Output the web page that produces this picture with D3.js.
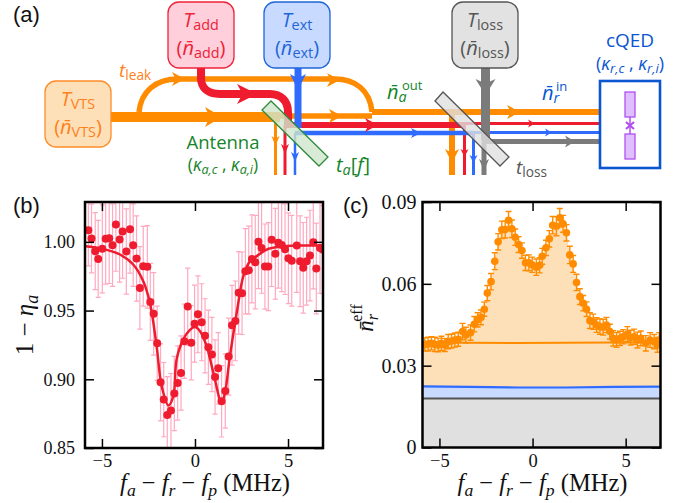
<!DOCTYPE html>
<html>
<head>
<meta charset="utf-8">
<script src="https://cdn.jsdelivr.net/npm/d3@7"></script>
<style>
  html, body { margin: 0; padding: 0; background: #fff; }
  svg { display: block; }
  .serif { font-family: "Liberation Serif", serif; }
  .diagram text { font-family: "Open Sans", sans-serif; }
</style>
</head>
<body>
<div id="chart"></div>
<script>
// panel (b): antenna transmission
const bX = [-5.73,-5.56,-5.36,-5.20,-4.98,-4.80,-4.61,-4.43,-4.25,-4.05,-3.89,-3.69,-3.49,-3.32,-3.14,-2.96,-2.78,-2.56,-2.40,-2.22,-2.03,-1.85,-1.68,-1.49,-1.29,-1.11,-0.93,-0.75,-0.57,-0.39,-0.20,-0.02,0.16,0.36,0.54,0.72,0.91,1.08,1.25,1.43,1.63,1.81,1.99,2.17,2.35,2.53,2.71,2.89,3.06,3.24,3.41,3.58,3.76,3.94,4.12,4.32,4.48,4.66,4.84,5.02,5.20,5.47,5.65,5.82,6.00,6.18,6.36,6.52,6.72,6.86];
const bY = [1.0085,1.0024,0.9932,0.9876,0.9949,1.0022,1.0027,0.9976,1.0126,1.0017,1.0075,0.9930,1.0092,0.9976,0.9879,0.9665,0.9823,0.9818,0.9563,0.9476,0.9262,0.8978,0.8852,0.8740,0.8772,0.8896,0.8973,0.9046,0.9277,0.9529,0.9265,0.9405,0.9473,0.9415,0.9316,0.9233,0.9180,0.9017,0.9080,0.8840,0.8915,0.9165,0.9393,0.9425,0.9629,0.9626,0.9786,0.9794,0.9876,0.9852,1.0000,0.9956,0.9820,0.9820,1.0015,0.9913,0.9993,0.9978,0.9947,0.9881,0.9862,0.9973,0.9859,0.9811,0.9859,0.9900,0.9998,0.9806,0.9956,0.9944];
const bErr = [0.026,0.025,0.028,0.028,0.032,0.033,0.033,0.030,0.034,0.031,0.034,0.031,0.032,0.030,0.031,0.030,0.029,0.030,0.028,0.030,0.027,0.028,0.027,0.028,0.027,0.027,0.027,0.027,0.027,0.028,0.027,0.028,0.028,0.028,0.027,0.027,0.027,0.027,0.026,0.026,0.027,0.028,0.029,0.029,0.030,0.030,0.031,0.032,0.032,0.034,0.034,0.033,0.031,0.032,0.034,0.033,0.033,0.034,0.033,0.033,0.033,0.034,0.033,0.033,0.032,0.033,0.034,0.033,0.033,0.032];
const bFitX = [-5.90,-5.11,-4.75,-4.03,-3.32,-2.78,-2.42,-2.06,-1.79,-1.43,-1.16,-0.99,-0.63,-0.27,0,0.27,0.63,0.99,1.43,1.61,1.88,2.24,2.60,2.96,3.32,3.85,4.57,5.47,6.90];
const bFitY = [0.9968,0.9955,0.9942,0.9908,0.9835,0.9714,0.9556,0.9240,0.8950,0.8810,0.8880,0.9143,0.9290,0.9360,0.9380,0.9350,0.9240,0.9046,0.8830,0.8900,0.9170,0.9480,0.9750,0.9860,0.9896,0.9944,0.9964,0.9973,0.9973];

// panel (c): effective photon number
const cX = [-5.79,-5.61,-5.43,-5.25,-5.07,-4.89,-4.71,-4.53,-4.35,-4.17,-3.99,-3.76,-3.58,-3.33,-3.13,-2.95,-2.77,-2.59,-2.43,-2.23,-2.03,-1.85,-1.65,-1.47,-1.29,-1.11,-0.93,-0.75,-0.57,-0.38,-0.20,-0.02,0.20,0.38,0.52,0.72,0.90,1.08,1.28,1.46,1.64,1.82,2.00,2.18,2.36,2.54,2.72,2.90,3.08,3.26,3.44,3.62,3.79,3.97,4.15,4.33,4.51,4.69,4.87,5.09,5.27,5.45,5.63,5.81,6.08,6.31,6.53,6.71,6.80];
const cY = [0.0378,0.0379,0.0382,0.0378,0.0376,0.0382,0.0376,0.0388,0.0390,0.0394,0.0397,0.0425,0.0412,0.0421,0.0452,0.0468,0.0477,0.0507,0.0566,0.0608,0.0683,0.0754,0.0798,0.0799,0.0833,0.0802,0.0771,0.0744,0.0722,0.0677,0.0677,0.0670,0.0661,0.0668,0.0701,0.0732,0.0765,0.0815,0.0811,0.0842,0.0820,0.0787,0.0706,0.0673,0.0605,0.0553,0.0529,0.0507,0.0465,0.0461,0.0449,0.0443,0.0441,0.0449,0.0425,0.0400,0.0394,0.0400,0.0406,0.0416,0.0403,0.0406,0.0394,0.0400,0.0382,0.0394,0.0388,0.0376,0.0394];
const cErr = [0.0024,0.0025,0.0024,0.0026,0.0025,0.0026,0.0024,0.0026,0.0025,0.0026,0.0026,0.0030,0.0029,0.0028,0.0028,0.0026,0.0027,0.0026,0.0028,0.0030,0.0031,0.0030,0.0032,0.0031,0.0032,0.0032,0.0030,0.0029,0.0028,0.0028,0.0029,0.0028,0.0030,0.0028,0.0029,0.0028,0.0030,0.0032,0.0035,0.0034,0.0031,0.0030,0.0032,0.0031,0.0030,0.0029,0.0028,0.0027,0.0029,0.0028,0.0027,0.0028,0.0029,0.0028,0.0027,0.0028,0.0027,0.0026,0.0026,0.0027,0.0027,0.0028,0.0029,0.0027,0.0028,0.0027,0.0026,0.0027,0.0027];
const cRange = [-5.95, 6.9];
const orangeLevel = [0.0385, 0.0384, 0.0383, 0.0384, 0.0385, 0.0385];
const blueLevel = [0.0224, 0.0222, 0.0220, 0.0220, 0.0222, 0.0223];
const greyLevel = 0.018;

const xTicks = [-5, 0, 5];
const bTicks = [0.85, 0.90, 0.95, 1.00];
const cTicks = [0, 0.03, 0.06, 0.09];

const RED = '#ee1c2e', ORANGE = '#ff8c00', BLUE = '#2f6bff', GREY = '#7b7b7b';

const svg = d3.select('#chart').append('svg').attr('width', 683).attr('height', 503);

// writes a run of [string, kind] pieces into a text element
function rich(text, parts, size, drop) {
  let shift = 0;
  const low = drop === undefined ? 0.15 : drop;
  parts.forEach(([str, kind]) => {
    const t = text.append('tspan').text(str);
    let want = 0;
    if (kind === 'i') t.attr('font-style', 'italic');
    if (kind === 'sub' || kind === 'subi') { want = size * low; t.attr('font-size', size * 0.72); }
    if (kind === 'subi') t.attr('font-style', 'italic');
    t.attr('dy', want - shift);
    shift = want;
  });
}

function arrow(g, tipX, tipY, dir, len, hw, color) {
  const r = { right: 0, down: 90 }[dir];
  g.append('path')
    .attr('d', `M0,0L${-len},${-hw}L${-len * 0.72},0L${-len},${hw}Z`)
    .attr('transform', `translate(${tipX},${tipY}) rotate(${r})`)
    .attr('fill', color);
}

function panel(opt) {
  const g = svg.append('g');
  const x = d3.scaleLinear().domain(opt.xDomain).range(opt.xRange);
  const y = d3.scaleLinear().domain(opt.yDomain).range(opt.yRange);
  const id = 'clip' + opt.name;
  g.append('clipPath').attr('id', id).append('rect')
    .attr('x', opt.xRange[0]).attr('y', opt.yRange[1])
    .attr('width', opt.xRange[1] - opt.xRange[0]).attr('height', opt.yRange[0] - opt.yRange[1]);
  const body = g.append('g').attr('clip-path', `url(#${id})`);
  opt.draw(body, x, y);

  const h = opt.yRange[0], t = opt.yRange[1], l = opt.xRange[0], r = opt.xRange[1];
  const axes = [
    [d3.axisBottom(x).tickValues(xTicks).tickSize(-9).tickSizeOuter(0).tickPadding(6), `translate(0,${h})`, 18.5],
    [d3.axisTop(x).tickValues(xTicks).tickSize(-9).tickSizeOuter(0).tickFormat(''), `translate(0,${t})`, 18],
    [d3.axisLeft(y).tickValues(opt.yTicks).tickSize(-9).tickSizeOuter(0).tickPadding(opt.yPad).tickFormat(opt.yFormat), `translate(${l},0)`, opt.ySize],
    [d3.axisRight(y).tickValues(opt.yTicks).tickSize(-9).tickSizeOuter(0).tickFormat(''), `translate(${r},0)`, 18]
  ];
  axes.forEach(([axis, tr, size]) => {
    const a = g.append('g').attr('transform', tr).call(axis);
    a.select('.domain').remove();
    a.selectAll('.tick line').attr('stroke', '#000').attr('stroke-width', 1.5);
    a.selectAll('.tick text').style('font-family', '"Liberation Serif", serif').attr('font-size', size).attr('fill', '#111');
  });
  g.append('rect').attr('x', l).attr('y', t).attr('width', r - l).attr('height', h - t)
    .attr('fill', 'none').attr('stroke', '#000').attr('stroke-width', 2.5);

  const xl = g.append('text').attr('class', 'serif').attr('x', (l + r) / 2 + 1).attr('y', 491)
    .attr('text-anchor', 'middle').attr('font-size', 24.5).attr('fill', '#111');
  rich(xl, [['f', 'i'], ['a', 'subi'], [' − ', ''], ['f', 'i'], ['r', 'subi'], [' − ', ''], ['f', 'i'], ['p', 'subi'], [' (MHz)', '']], 24.5, 0.2);
  g.append('text').attr('x', opt.tagX).attr('y', 213).attr('font-family', '"Liberation Sans", sans-serif')
    .attr('font-size', 22).attr('fill', '#111').text(opt.tag);
  return g;
}

function errorBars(g, x, y, xs, ys, errs, color, cap, width) {
  xs.forEach((v, i) => {
    const px = x(v), y0 = y(ys[i] - errs[i]), y1 = y(ys[i] + errs[i]);
    g.append('path')
      .attr('d', `M${px},${y0}V${y1}M${px - cap},${y0}H${px + cap}M${px - cap},${y1}H${px + cap}`)
      .attr('fill', 'none').attr('stroke', color).attr('stroke-width', width);
  });
}

// (b)
const bPanel = panel({
  name: 'b', tag: '(b)', tagX: 13,
  xDomain: [-5.91, 6.88], xRange: [85, 323],
  yDomain: [0.85, 1.029], yRange: [448, 202],
  yTicks: bTicks, yFormat: d3.format('.2f'), yPad: 10, ySize: 18,
  draw(g, x, y) {
    errorBars(g, x, y, bX, bY, bErr, '#ffa9c0', 2.6, 1.2);
    g.append('path').datum(d3.zip(bFitX, bFitY))
      .attr('d', d3.line().x(d => x(d[0])).y(d => y(d[1])).curve(d3.curveCatmullRom.alpha(0.5)))
      .attr('fill', 'none').attr('stroke', RED).attr('stroke-width', 2.5);
    g.selectAll('circle').data(d3.zip(bX, bY)).join('circle')
      .attr('cx', d => x(d[0])).attr('cy', d => y(d[1])).attr('r', 4).attr('fill', RED);
  }
});
const bLabel = bPanel.append('text').attr('class', 'serif').attr('font-size', 25).attr('fill', '#111')
  .attr('transform', 'translate(33,325) rotate(-90)').attr('text-anchor', 'middle');
rich(bLabel, [['1 − ', ''], ['η', 'i'], ['a', 'subi']], 25, 0.2);

// (c)
const cPanel = panel({
  name: 'c', tag: '(c)', tagX: 343,
  xDomain: [-5.91, 6.87], xRange: [422.5, 660.5],
  yDomain: [0, 0.09], yRange: [447.5, 202],
  yTicks: cTicks, yFormat: d => (d === 0 ? '0' : d3.format('.2f')(d)), yPad: 6, ySize: 20,
  draw(g, x, y) {
    const levelX = d3.range(orangeLevel.length).map(i => cRange[0] + i * (cRange[1] - cRange[0]) / (orangeLevel.length - 1));
    const shade = [[cRange[0], cY[0]], ...d3.zip(cX, cY), [cRange[1], cY[cY.length - 1]]];
    g.append('path').datum(shade)
      .attr('d', d3.area().x(d => x(d[0])).y0(y(0)).y1(d => y(d[1])))
      .attr('fill', '#fde0b8');
    g.append('path').datum(d3.zip(levelX, blueLevel))
      .attr('d', d3.area().x(d => x(d[0])).y0(y(0)).y1(d => y(d[1])))
      .attr('fill', '#c8daff');
    g.append('rect').attr('x', x(cRange[0])).attr('width', x(cRange[1]) - x(cRange[0]))
      .attr('y', y(greyLevel)).attr('height', y(0) - y(greyLevel)).attr('fill', '#e0e0e0');
    const line = d3.line().x(d => x(d[0])).y(d => y(d[1]));
    g.append('path').datum(d3.zip(levelX, orangeLevel)).attr('d', line)
      .attr('fill', 'none').attr('stroke', ORANGE).attr('stroke-width', 2);
    g.append('path').datum(d3.zip(levelX, blueLevel)).attr('d', line)
      .attr('fill', 'none').attr('stroke', BLUE).attr('stroke-width', 2.2);
    g.append('path').datum([[cRange[0], greyLevel], [cRange[1], greyLevel]]).attr('d', line)
      .attr('fill', 'none').attr('stroke', '#555').attr('stroke-width', 2);
    errorBars(g, x, y, cX, cY, cErr, ORANGE, 3, 1.4);
    g.selectAll('circle').data(d3.zip(cX, cY)).join('circle')
      .attr('cx', d => x(d[0])).attr('cy', d => y(d[1])).attr('r', 3.8).attr('fill', ORANGE);
  }
});
const cLabel = cPanel.append('text').attr('class', 'serif').attr('font-size', 23).attr('fill', '#111')
  .attr('transform', 'translate(373,318) rotate(-90)').attr('text-anchor', 'middle');
rich(cLabel, [['n̄', 'i'], ['r', 'subi']], 23, 0.2);
cLabel.append('tspan').attr('dx', -8).attr('dy', -16).attr('font-size', 16).text('eff');

// (a) schematic
const dia = svg.append('g').attr('class', 'diagram');
dia.append('text').attr('x', 13).attr('y', 22)
  .style('font-family', '"Liberation Sans", sans-serif').attr('font-size', 22).attr('fill', '#111').text('(a)');

function wire(d, color, w) {
  dia.append('path').attr('d', d).attr('fill', 'none').attr('stroke', color).attr('stroke-width', w);
}
// beams
wire('M111,117H280', ORANGE, 10);
wire('M275,116H372', ORANGE, 5.5);
wire('M372,112H600', ORANGE, 6);
wire('M139,112C141,92 155,79 178,79H335C355,79 370,90 372,112', ORANGE, 5.5);
wire('M275.5,117V175', ORANGE, 3);
wire('M452,112V175', ORANGE, 6);
wire('M201,68V78C201,88 208,94 220,94H270C281,94 288,101 288,112V127', RED, 8);
wire('M285,125H463', RED, 6);
wire('M463,123.5H600', RED, 3);
wire('M285,125V175', RED, 3);
wire('M464.5,125V175', RED, 3);
wire('M298,68V128', BLUE, 7);
wire('M295,133H473', BLUE, 4.5);
wire('M473,132.5H600', BLUE, 3);
wire('M295,133V175', BLUE, 2.5);
wire('M473.5,133V175', BLUE, 3);
wire('M485.5,68V140', GREY, 9);
wire('M484,140V175', GREY, 5);
wire('M484,141.5H600', GREY, 5);

[[222, 117, 'right', 17, 10, ORANGE], [185, 79, 'right', 13, 7, ORANGE], [340, 80, 'right', 13, 7, ORANGE],
 [342, 116, 'right', 13, 7, ORANGE], [257, 94, 'right', 20, 10, RED], [298, 90, 'down', 16, 8, BLUE],
 [275.5, 146, 'down', 10, 4, ORANGE], [285, 154, 'down', 10, 4, RED], [295, 162, 'down', 10, 4, BLUE],
 [378, 125, 'right', 13, 7, RED], [421, 133, 'right', 10, 5, BLUE], [520, 112, 'right', 13, 7, ORANGE],
 [535, 123.5, 'right', 7, 4, RED], [552, 132.5, 'right', 7, 4, BLUE], [575, 141.5, 'right', 10, 6, GREY],
 [485.5, 95, 'down', 16, 10, GREY], [452, 163, 'down', 14, 7, ORANGE], [464.5, 157, 'down', 8, 4, RED],
 [473.5, 163, 'down', 8, 4, BLUE], [484, 171, 'down', 12, 5, GREY]
].forEach(a => arrow(dia, a[0], a[1], a[2], a[3], a[4], a[5]));

// beam splitters
dia.append('path').attr('d', 'M262,110L271,101L328,157L319,166Z')
  .attr('fill', '#cfe6cc').attr('fill-opacity', 0.8).attr('stroke', '#2e8b3a').attr('stroke-width', 1.3);
dia.append('path').attr('d', 'M435,101L443,92L509,157L500,166Z')
  .attr('fill', '#e0e0e0').attr('fill-opacity', 0.8).attr('stroke', '#555').attr('stroke-width', 1.3);

// sources
const boxes = [
  { x: 45, y: 81, fill: '#fde0b8', stroke: '#ff8c2a', text: '#ff7f1a', sub: 'VTS' },
  { x: 168, y: 2, fill: '#ffd0dc', stroke: '#ee2238', text: '#ee2238', sub: 'add' },
  { x: 264, y: 2, fill: '#c8daff', stroke: '#1f66d8', text: '#1f66d8', sub: 'ext' },
  { x: 452, y: 2, fill: '#e2e2e2', stroke: '#555555', text: '#555555', sub: 'loss' }
];
boxes.forEach(b => {
  dia.append('rect').attr('x', b.x).attr('y', b.y).attr('width', 66).attr('height', 66).attr('rx', 11)
    .attr('fill', b.fill).attr('stroke', b.stroke).attr('stroke-width', 1.3);
  const a = dia.append('text').attr('x', b.x + 33).attr('y', b.y + 25).attr('text-anchor', 'middle')
    .attr('font-size', 20).attr('fill', b.text);
  rich(a, [['T', 'i'], [b.sub, 'sub']], 20);
  const c = dia.append('text').attr('x', b.x + 33).attr('y', b.y + 53).attr('text-anchor', 'middle')
    .attr('font-size', 20).attr('fill', b.text);
  rich(c, [['(', ''], ['n̄', 'i'], [b.sub, 'sub'], [')', '']], 20);
});

// cQED device
dia.append('rect').attr('x', 600).attr('y', 81).attr('width', 60).attr('height', 87)
  .attr('fill', '#fff').attr('stroke', '#0a55d0').attr('stroke-width', 2.6);
wire('M630,117V134', '#b050f0', 1.5);
wire('M626,122L634,129M634,122L626,129', '#b050f0', 2.2);
[92, 134].forEach(py => {
  dia.append('rect').attr('x', 625).attr('y', py).attr('width', 10).attr('height', 25)
    .attr('fill', '#e0bfff').attr('stroke', '#b050f0').attr('stroke-width', 1.3);
});

function label(x, y, size, color, parts, anchor) {
  const t = dia.append('text').attr('x', x).attr('y', y).attr('font-size', size).attr('fill', color)
    .attr('text-anchor', anchor || 'start');
  rich(t, parts, size);
}
const GREEN = '#15842a', CBLUE = '#0a55d0';
label(119, 77, 19, '#ff7f1a', [['t', 'i'], ['leak', 'sub']]);
label(223, 149, 18.5, GREEN, [['Antenna', '']], 'middle');
label(223, 171, 17.5, GREEN, [['(', ''], ['κ', 'i'], ['a,c', 'subi'], [' , ', ''], ['κ', 'i'], ['a,i', 'subi'], [')', '']], 'middle');
label(336, 172, 20, GREEN, [['t', 'i'], ['a', 'subi'], ['[', ''], ['f', 'i'], [']', '']]);
label(387, 99, 20, GREEN, [['n̄', 'i'], ['a', 'subi']]);
label(402, 90, 13, GREEN, [['out', '']]);
label(542, 100, 20, CBLUE, [['n̄', 'i'], ['r', 'subi']]);
label(556, 91, 13, CBLUE, [['in', '']]);
label(516, 174, 19, '#555', [['t', 'i'], ['loss', 'sub']]);
label(630, 47, 19, CBLUE, [['cQED', '']], 'middle');
label(630, 70, 18, CBLUE, [['(', ''], ['κ', 'i'], ['r,c', 'subi'], [' , ', ''], ['κ', 'i'], ['r,i', 'subi'], [')', '']], 'middle');
</script>
</body>
</html>
